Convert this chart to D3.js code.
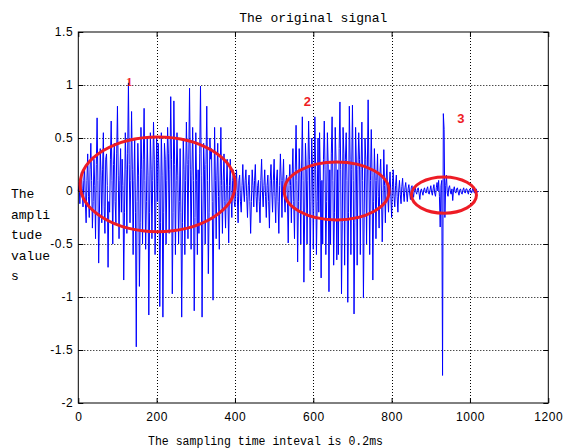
<!DOCTYPE html>
<html>
<head>
<meta charset="utf-8">
<script src="https://cdn.jsdelivr.net/npm/d3@7"></script>
<style>
  body { margin: 0; background: #fff; }
  text { fill: #000; }
</style>
</head>
<body>
<svg width="565" height="448"></svg>
<script>
// one value read every 2 samples
const sampleStep = 2;
const amplitude = [
  0.0, 0.08, -0.12, 0.05, 0.18, 0.02, -0.15, 0.1, 0.22, -0.1,
  -0.3, 0.1, 0.35, -0.05, -0.25, 0.2, 0.45, 0.1, -0.35, -0.1,
  0.3, 0.05, -0.45, 0.25, 0.69, 0.1, -0.68, -0.2, 0.4, 0.15,
  -0.3, 0.2, 0.55, -0.15, -0.4, 0.3, 0.35, 0.05, -0.72, -0.1,
  -0.2, 0.3, 0.66, 0.1, -0.5, 0.25, 0.45, -0.1, -0.3, 0.35,
  0.8, 0.15, -0.45, 0.1, 0.4, -0.2, 0.3, 0.05, -0.84, -0.2,
  0.55, 0.2, -0.4, 0.35, 1.02, 0.25, -0.3, 0.1, 0.75, 0.2,
  -0.6, 0.1, 0.5, -0.2, -1.47, -0.1, 0.45, 0.15, -0.9, -0.3,
  0.6, 0.2, -0.5, 0.3, 0.78, 0.1, -0.55, -0.1, 0.5, 0.15,
  -1.17, -0.2, 0.55, 0.2, -0.45, 0.1, 0.65, 0.3, -0.6, -0.15,
  0.5, -0.1, 0.45, 0.2, -1.09, -0.3, 0.55, 0.15, -1.19, -0.2,
  0.45, 0.3, -0.5, 0.1, 0.6, 0.35, -0.4, 0.2, 0.89, 0.3,
  -0.97, -0.2, 0.85, 0.25, -0.6, 0.1, 0.55, 0.15, -0.5, -0.1,
  0.4, -0.2, -1.19, -0.3, 0.5, 0.2, -0.6, 0.1, 0.65, 0.25,
  -0.45, 0.3, 0.97, 0.2, -0.55, 0.15, 0.6, 0.1, -1.13, -0.25,
  0.55, 0.1, -0.6, 0.2, -0.4, 0.35, 0.99, 0.15, -1.19, -0.3,
  0.45, 0.2, -0.5, 0.25, 0.8, 0.1, -0.78, -0.2, 0.5, 0.3,
  0.4, -0.1, -1.03, -0.2, 0.6, 0.1, -0.45, 0.15, 0.45, -0.05,
  -0.55, 0.1, 0.6, 0.05, -0.4, 0.1, 0.35, -0.1, -0.35, 0.05,
  0.3, -0.1, -0.49, 0.05, 0.3, -0.05, -0.25, 0.1, 0.2, -0.1,
  -0.15, 0.05, 0.2, -0.05, -0.3, 0.1, 0.15, -0.1, -0.2, 0.05,
  0.25, 0.0, -0.1, 0.1, 0.2, -0.05, -0.25, 0.05, 0.15, -0.1,
  -0.4, -0.1, 0.2, 0.05, -0.15, 0.1, 0.25, -0.05, -0.2, 0.05,
  0.1, -0.1, -0.3, 0.1, 0.3, 0.0, -0.15, 0.05, 0.2, -0.05,
  -0.25, 0.05, 0.15, -0.1, -0.35, 0.1, 0.25, 0.0, -0.2, 0.1,
  0.3, -0.05, -0.3, 0.1, 0.2, -0.1, -0.4, 0.05, 0.35, 0.1,
  -0.25, 0.1, 0.3, -0.05, -0.2, 0.1, 0.15, -0.1, -0.49, 0.05,
  0.25, 0.05, -0.3, 0.15, 0.4, -0.1, -0.45, 0.2, 0.62, 0.1,
  -0.67, -0.1, 0.4, 0.15, -0.5, 0.2, 0.7, 0.1, -0.86, -0.2,
  0.45, 0.2, -0.5, 0.1, 0.66, 0.3, -0.75, -0.1, 0.5, 0.2,
  -0.55, 0.15, 0.7, 0.2, -0.6, -0.1, 0.5, -0.2, 0.55, 0.1,
  -0.82, 0.1, -0.5, 0.3, 0.66, 0.2, -0.6, -0.1, 0.55, 0.25,
  -0.95, 0.2, -0.5, 0.35, 0.7, 0.1, -0.7, -0.2, 0.6, 0.3,
  -0.65, 0.2, -0.6, 0.4, 0.84, 0.2, -0.97, -0.3, 0.6, 0.35,
  -0.7, 0.3, 0.55, 0.1, -1.05, -0.2, 0.8, 0.3, -0.6, 0.2,
  0.81, 0.1, -1.16, -0.3, 0.6, 0.25, -0.7, 0.2, 0.55, 0.3,
  -0.6, 0.2, 0.65, 0.1, -1.01, -0.2, 0.5, 0.3, -0.5, 0.2,
  0.86, 0.2, -0.6, 0.1, 0.58, 0.15, -0.84, -0.1, 0.4, 0.1,
  -0.45, 0.1, 0.35, -0.05, -0.35, 0.15, 0.3, 0.0, -0.48, -0.1,
  0.39, 0.05, -0.3, 0.1, 0.25, -0.05, -0.2, 0.05, 0.18, -0.05,
  -0.25, 0.05, 0.2, -0.05, -0.15, 0.05, 0.15, -0.05, -0.2, 0.0,
  0.1, -0.03, -0.12, 0.04, 0.12, -0.02, -0.1, 0.03, 0.08, -0.02,
  -0.1, 0.02, 0.06, -0.02, -0.08, 0.03, 0.05, -0.02, -0.06, 0.01,
  0.04, -0.01, -0.03, 0.02, 0.03, -0.02, -0.08, 0.0, 0.02, -0.01,
  -0.04, 0.01, 0.03, -0.01, -0.02, 0.02, 0.04, -0.02, -0.03, 0.01,
  0.05, -0.01, -0.04, 0.02, 0.06, -0.02, -0.05, 0.03, 0.08, 0.0,
  0.1, -0.05, -0.34, 0.05, 0.1, -1.74, 0.73, 0.58, -0.25, 0.05,
  0.15, -0.02, -0.05, 0.03, 0.05, -0.01, -0.03, 0.02, -0.09, 0.01,
  0.04, -0.01, -0.02, 0.02, 0.03, -0.01, -0.04, 0.01, 0.02, -0.02,
  -0.03, 0.01, 0.03, -0.01, -0.02, 0.02, 0.02, -0.01, -0.03, 0.01,
  0.02, -0.01, -0.02, 0.01, 0.03, -0.01, -0.02, 0.01, 0.02, -0.01,
  -0.01, 0.0
];

const xTicks = [0, 200, 400, 600, 800, 1000, 1200];
const yTicks = [-2, -1.5, -1, -0.5, 0, 0.5, 1, 1.5];

// red circled regions (data units) and their numbers
const markLabels = ["1", "2", "3"];
const markCx = [202.7, 659.7, 933.6];
const markCy = [0.063, 0.0, -0.038];
const markRx = [198, 134, 83];
const markRy = [0.447, 0.273, 0.171];
const labelX = [130, 585, 977];
const labelY = [0.99, 0.8, 0.64];

const svg = d3.select("svg");
const plotLeft = 78.3, plotRight = 548.3, plotTop = 32, plotBottom = 403;

const x = d3.scaleLinear().domain([0, 1200]).range([plotLeft, plotRight]);
const y = d3.scaleLinear().domain([-2, 1.5]).range([plotBottom, plotTop]);

// dotted grid
const grid = svg.append("g").attr("stroke", "#000").attr("stroke-dasharray", "1,2").attr("stroke-width", 1);
grid.selectAll(".gx").data(xTicks.slice(1, -1)).enter().append("line")
  .attr("x1", (d) => Math.round(x(d)) + 0.5).attr("x2", (d) => Math.round(x(d)) + 0.5)
  .attr("y1", plotTop).attr("y2", plotBottom);
grid.selectAll(".gy").data(yTicks.slice(1, -1)).enter().append("line")
  .attr("y1", (d) => Math.round(y(d)) + 0.5).attr("y2", (d) => Math.round(y(d)) + 0.5)
  .attr("x1", plotLeft).attr("x2", plotRight);

// signal
const line = d3.line()
  .x((d, i) => x(i * sampleStep))
  .y((d) => y(d));
svg.append("path")
  .datum(amplitude)
  .attr("fill", "none")
  .attr("stroke", "#0000ff")
  .attr("stroke-width", 1)
  .attr("d", line);

// axes box with inward ticks
const tickLen = 5;
const axisFont = (g) => g.attr("font-family", "Liberation Sans, Arial, sans-serif")
  .attr("font-size", 12).attr("letter-spacing", 0.6);
svg.append("g").attr("transform", `translate(0,${plotBottom})`)
  .call(d3.axisBottom(x).tickValues(xTicks).tickSize(-tickLen).tickPadding(9).tickFormat(d3.format("d")))
  .call(axisFont);
svg.append("g").attr("transform", `translate(0,${plotTop})`)
  .call(d3.axisTop(x).tickValues(xTicks).tickSize(-tickLen).tickFormat(""));
svg.append("g").attr("transform", `translate(${plotLeft},0)`)
  .call(d3.axisLeft(y).tickValues(yTicks).tickSize(-tickLen).tickPadding(5).tickFormat((d) => String(d)))
  .call(axisFont);
svg.append("g").attr("transform", `translate(${plotRight},0)`)
  .call(d3.axisRight(y).tickValues(yTicks).tickSize(-tickLen).tickFormat(""));
svg.selectAll(".domain").remove();
svg.selectAll(".tick line").attr("stroke", "#000");
svg.selectAll(".tick text").attr("fill", "#000");
svg.append("rect")
  .attr("x", plotLeft).attr("y", plotTop)
  .attr("width", plotRight - plotLeft).attr("height", plotBottom - plotTop)
  .attr("fill", "none").attr("stroke", "#000").attr("stroke-width", 1);

// red ellipses
svg.append("g").selectAll("ellipse").data(markCx).enter().append("ellipse")
  .attr("cx", (d) => x(d))
  .attr("cy", (d, i) => y(markCy[i]))
  .attr("rx", (d, i) => x(markRx[i]) - x(0))
  .attr("ry", (d, i) => y(0) - y(markRy[i]))
  .attr("fill", "none")
  .attr("stroke", "#ee1c25")
  .attr("stroke-width", 3);

svg.append("g").selectAll("text").data(markLabels).enter().append("text")
  .attr("x", (d, i) => x(labelX[i]))
  .attr("y", (d, i) => y(labelY[i]))
  .attr("text-anchor", "middle")
  .attr("font-family", (d, i) => i === 0 ? "Liberation Serif, serif" : "Liberation Sans, Arial, sans-serif")
  .attr("font-weight", "bold")
  .attr("font-size", 13)
  .style("fill", "#ee1c25")
  .text((d) => d);

// titles
const mono = "Liberation Mono, DejaVu Sans Mono, monospace";
svg.append("text")
  .attr("x", (plotLeft + plotRight) / 2).attr("y", 22)
  .attr("text-anchor", "middle")
  .attr("font-family", mono).attr("font-size", 13)
  .text("The original signal");

svg.append("text")
  .attr("x", 148).attr("y", 445)
  .attr("font-family", mono).attr("font-size", 12)
  .attr("textLength", 235).attr("lengthAdjust", "spacingAndGlyphs")
  .text("The sampling time inteval is 0.2ms");

const yLabelLines = ["The", "ampli", "tude", "value", "s"];
svg.append("g").selectAll("text").data(yLabelLines).enter().append("text")
  .attr("x", 11)
  .attr("y", (d, i) => 198 + i * 20.5)
  .attr("font-family", mono).attr("font-size", 13)
  .text((d) => d);
</script>
</body>
</html>
